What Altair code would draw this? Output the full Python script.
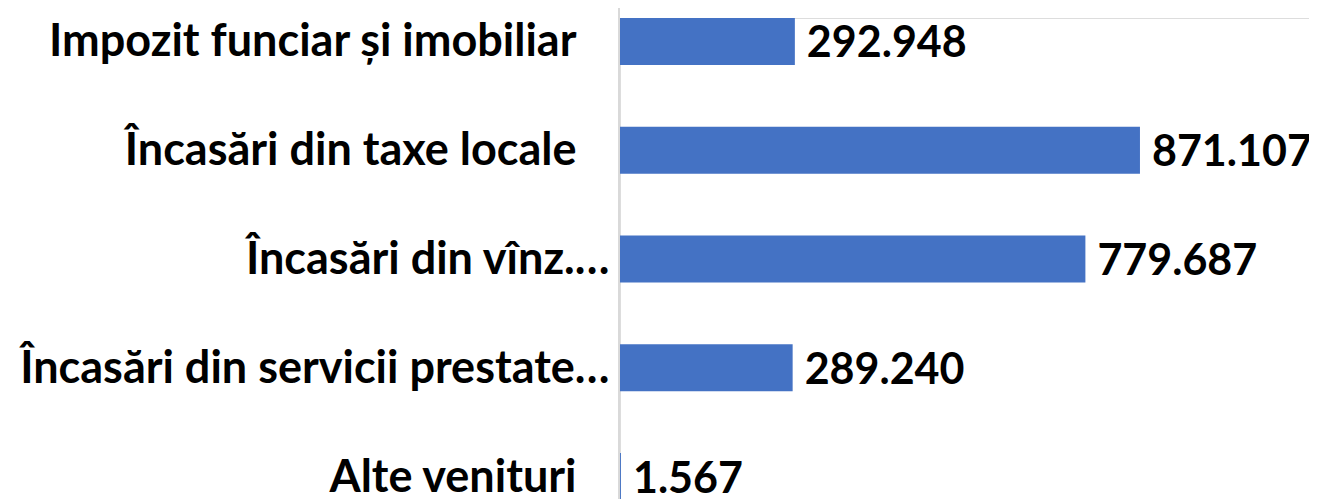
import altair as alt
import pandas as pd

categories = [
    "Impozit funciar și imobiliar",
    "Încasări din taxe locale",
    "Încasări din vînz.…",
    "Încasări din servicii prestate…",
    "Alte venituri",
]
values = [292948, 871107, 779687, 289240, 1567]

df = pd.DataFrame({"cat": categories, "value": values})

W = 689
H = 482

y_enc = alt.Y(
    "cat:N",
    sort=categories,
    title=None,
    scale=alt.Scale(paddingInner=0.568, paddingOuter=0),
    axis=alt.Axis(
        ticks=False,
        domain=False,
        grid=False,
        labelLimit=0,
        labelFont="Lato",
        labelFontWeight="bold",
        labelFontSize=45,
        labelColor="#000000",
        labelOffset=1,
        labelPadding={"condition": {"test": "indexof(datum.label, '…') >= 0", "value": 11}, "value": 44},
    ),
)
x_enc = alt.X("value:Q", axis=None, scale=alt.Scale(domain=[0, 1154300], nice=False))

base = alt.Chart(df)

rule = alt.Chart(pd.DataFrame({"v": [0]})).mark_rule(color="#d9d9d9", strokeWidth=2).encode(
    x=alt.value(-1), y=alt.value(-10), y2=alt.value(H + 10)
)

bars = base.mark_bar(color="#4472C4").encode(x=x_enc, y=y_enc)

text = base.mark_text(
    align="left", baseline="middle", dx=12, dy=3,
    font="Lato", fontWeight="bold", fontSize=43, color="#000000",
).encode(x=x_enc, y=y_enc, text=alt.Text("value:Q", format=",d"))

chart = (
    alt.layer(rule, bars, text)
    .properties(
        width=W,
        height=H,
        autosize=alt.AutoSizeParams(type="none"),
        padding={"left": 612, "top": 10, "right": 0, "bottom": 0},
        background="white",
    )
    .configure_view(stroke=None)
    .configure(locale=alt.Locale(number=alt.NumberLocale(
        decimal=",", thousands=".", grouping=[3], currency=["", " lei"])))
)

chart.save("out.html", embed_options={"renderer": "svg", "actions": False})
